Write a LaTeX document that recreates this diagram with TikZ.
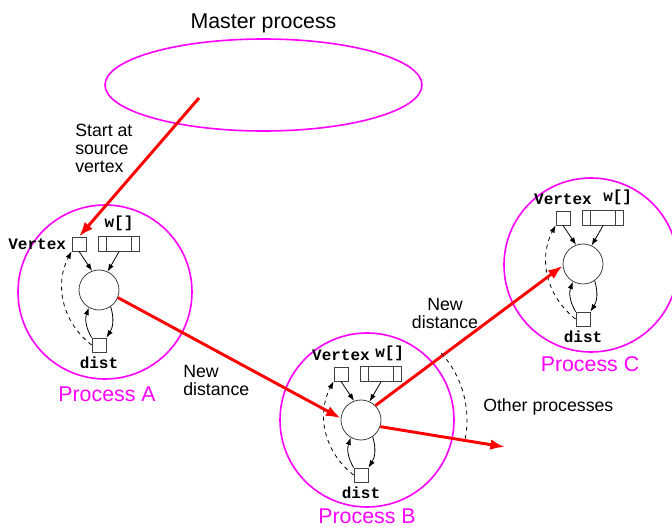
\documentclass[tikz,border=0pt]{standalone}
\usepackage{fontspec}
\setmainfont{Liberation Sans}
\setmonofont{Liberation Mono}
\usetikzlibrary{positioning, arrows.meta, shapes.geometric}
\definecolor{procpink}{RGB}{255,0,255}
\definecolor{msgred}{RGB}{255,0,0}
\tikzset{
  proc/.style={circle, draw=procpink, line width=1.2pt, minimum size=130.5pt, inner sep=0pt},
  core/.style={circle, draw=black!75, line width=0.6pt, minimum size=30pt, inner sep=0pt},
  cell/.style={rectangle, draw=black!75, line width=0.6pt, minimum width=10.5pt, minimum height=10.5pt, inner sep=0pt},
  arr/.style={rectangle, draw=black!75, line width=0.6pt, minimum width=30.75pt, minimum height=11pt, inner sep=0pt,
    path picture={
      \draw[black!75, line width=0.6pt] ([xshift=6pt]path picture bounding box.north west) -- ([xshift=6pt]path picture bounding box.south west);
      \draw[black!75, line width=0.6pt] ([xshift=-6pt]path picture bounding box.north east) -- ([xshift=-6pt]path picture bounding box.south east);
    }},
  tag/.style={font=\ttfamily\bfseries\fontsize{12}{14}\selectfont, inner sep=0pt}
}

\begin{document}
\begin{tikzpicture}[x=0.75pt, y=-0.75pt,
    big/.style={font=\fontsize{16}{18}\selectfont, inner sep=0pt},
    note/.style={font=\fontsize{13.3}{13.4}\selectfont, inner sep=0pt},
    msg/.style={draw=msgred, line width=2.2pt, -{Latex[length=11pt, width=8pt]}},
    flow/.style={draw=black, line width=0.6pt, -{Latex[length=5.5pt, width=4pt]}}
  ]
  \useasboundingbox (0,0) rectangle (672,527);

  % master
  \node[big, anchor=base] (mtitle) at (263.5,28.5) {Master process};
  \node[ellipse, draw=procpink, line width=1.2pt, minimum width=237.75pt, minimum height=69pt] (master) at (263.5,85) {};
  \coordinate (start) at (199,98);

  % processes
  \node[proc] (procA) at (105,292) {};
  \node[proc] (procB) at (367,420) {};
  \node[proc] (procC) at (591,265) {};
  \node[big, text=procpink, anchor=base] (labA) at (107,402) {Process A};
  \node[big, text=procpink, anchor=base] (labB) at (367,523) {Process B};
  \node[big, text=procpink, anchor=base] (labC) at (590,372) {Process C};

  \foreach \p/\x/\y in {A/99/290, B/361/420, C/583/264} {
    \node[core] (core\p) at (\x,\y) {};
    \node[cell] (vert\p) at ([shift={(-20,-46)}]core\p) {};
    \node[arr] (w\p) at ([shift={(20,-46)}]core\p) {};
    \node[cell] (dist\p) at ([shift={(0,55)}]core\p) {};
    \node[tag, below=3pt of dist\p] {dist};
    \draw[flow] (vert\p.south) -- (core\p.110);
    \draw[flow] (w\p.south) -- (core\p.65);
    \draw[flow] (core\p.-55) to[bend left=25] (dist\p.north east);
    \draw[flow] (dist\p.north west) to[bend left=25] (core\p.-120);
    \draw[flow, dashed] (dist\p.west) to[bend left=40] (vert\p.south west);
  }
  \node[tag, left=4pt of vertA] (vtxA) {Vertex};
  \node[tag, above=4pt of wA] (wlA) {w[]};
  \node[tag, above=4pt of vertB] (vtxB) {Vertex};
  \node[tag, above=4pt of wB, xshift=6.5pt] (wlB) {w[]};
  \node[tag, above=4pt of vertC] (vtxC) {Vertex};
  \node[tag, above=4pt of wC, xshift=11pt] (wlC) {w[]};

  % messages
  \coordinate (other) at (505,447);
  \draw[msg] (start) -- (vertA.north);
  \draw[msg] (coreA.-22) -- (coreB.175);
  \draw[msg] (coreB.45) -- (coreC.185);
  \draw[msg] (coreB.-19) -- (other);
  \draw[dashed, line width=0.6pt] ([shift={(42:75pt)}]procB.center) arc[start angle=42, end angle=-12, radius=75pt];

  \node[note, align=left, anchor=north west] (srclbl) at (75,124) {Start at\\source\\vertex};
  \node[note, align=left, anchor=north west] (nd1) at (183,365) {New\\distance};
  \node[note, align=center, anchor=north] (nd2) at (445,298) {New\\distance};
  \node[note, anchor=base west] (others) at (483,412) {Other processes};
\end{tikzpicture}
\end{document}
